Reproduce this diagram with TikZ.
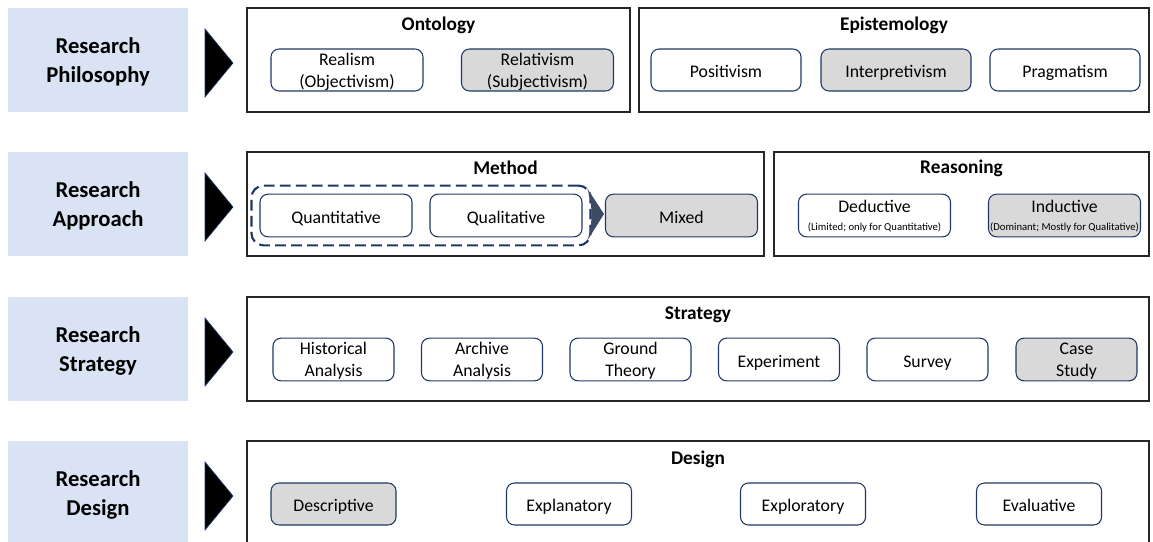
\documentclass[tikz,border=0pt]{standalone}
\usepackage{fontspec}
\setmainfont{Carlito}
\usetikzlibrary{fit}
\definecolor{stageblue}{HTML}{DAE3F3}
\definecolor{navy}{HTML}{1F3864}
\definecolor{picked}{HTML}{D9D9D9}
\definecolor{slate}{HTML}{3C4A63}

\begin{document}
\begin{tikzpicture}[x=0.75pt, y=-0.75pt]
        \tikzstyle{stage} = [rectangle, fill=stageblue, minimum width=135pt, minimum height=78pt, inner sep=0pt, align=center, font=\fontsize{17}{21.75}\selectfont\bfseries, text depth=-1pt]
        \tikzstyle{frame} = [rectangle, draw=black!85, line width=0.9pt, minimum height=78pt, inner sep=0pt]
        \tikzstyle{heading} = [inner sep=0pt, font=\fontsize{14.5}{17}\selectfont\bfseries]
        \tikzstyle{choice} = [rectangle, rounded corners=6pt, draw=navy, line width=0.8pt, fill=white, inner sep=0pt, align=center, minimum height=32pt, font=\fontsize{13.3}{16.5}\selectfont, execute at begin node={\rule{0pt}{14.5pt}}, execute at end node={\rule[-3pt]{0pt}{3pt}}]
        \tikzstyle{picked} = [choice, fill=picked]
        \tikzstyle{pair} = [text depth=-1pt]
        \useasboundingbox (0,0) rectangle (1153,542);

        % stages
        \node (philo) [stage] at (98,60) {Research\\Philosophy};
        \node (appr) [stage] at (98,204) {Research\\Approach};
        \node (strat) [stage] at (98,349) {Research\\Strategy};
        \node (design) [stage] at (98,493) {Research\\Design};
        \foreach \y in {63,207,352,496}
            \filldraw [fill=black, draw=navy, line width=0.5pt] (205,\y-34) -- (233,\y) -- (205,\y+34) -- cycle;

        % philosophy
        \node (onto) [frame, minimum width=287.25pt] at (438.5,60) {};
        \node (ontoT) [heading] at (438.5,25) {Ontology};
        \node (realism) [choice, pair, minimum width=114pt, minimum height=31.5pt] at (347,70) {Realism\\(Objectivism)};
        \node (relat) [picked, pair, minimum width=114pt, minimum height=31.5pt] at (537.5,70) {Relativism\\(Subjectivism)};
        \node (episte) [frame, minimum width=382.5pt] at (894,60) {};
        \node (episteT) [heading] at (894,25) {Epistemology};
        \node (posit) [choice, minimum width=112.5pt, minimum height=31.5pt] at (726,70) {Positivism};
        \node (interp) [picked, minimum width=112.5pt, minimum height=31.5pt] at (896,70) {Interpretivism};
        \node (pragm) [choice, minimum width=112.5pt, minimum height=31.5pt] at (1065,70) {Pragmatism};

        % approach
        \node (method) [frame, minimum width=387.75pt] at (505.5,204) {};
        \node (methodT) [heading] at (505.5,168) {Method};
        \node (quan) [choice, minimum width=114pt] at (336,215.5) {Quantitative};
        \node (qual) [choice, minimum width=114pt] at (506,215.5) {Qualitative};
        \node (mixed) [picked, minimum width=114pt] at (681.5,215.5) {Mixed};
        \node (both) [fit=(quan)(qual), draw=navy, line width=1.6pt, dash pattern=on 8pt off 4pt, rounded corners=9pt, inner sep=6pt] {};
        \fill [slate] (587,188) -- (604,214) -- (587,241) .. controls (593,226) and (593,203) .. (587,188) -- cycle;
        \node (reason) [frame, minimum width=281.25pt] at (961.5,204) {};
        \node (reasonT) [heading] at (961.5,168) {Reasoning};
        \node (deduct) [choice, pair, minimum width=114pt] at (874.5,215.5) {Deductive\\[-2.5pt]{\fontsize{8}{8}\selectfont (Limited; only for Quantitative)}};
        \node (induct) [picked, pair, minimum width=114pt] at (1064.5,215.5) {Inductive\\[-2.5pt]{\fontsize{8}{8}\selectfont (Dominant; Mostly for Qualitative)}};

        % strategy
        \node (strategy) [frame, minimum width=676.5pt] at (698,349) {};
        \node (strategyT) [heading] at (698,315) {Strategy};
        \node (hist) [choice, pair, minimum width=90.75pt] at (333.5,359.5) {Historical\\Analysis};
        \node (arch) [choice, pair, minimum width=90.75pt] at (482,359.5) {Archive\\Analysis};
        \node (ground) [choice, pair, minimum width=90.75pt] at (630.5,359.5) {Ground\\Theory};
        \node (exper) [choice, minimum width=90.75pt] at (779,359.5) {Experiment};
        \node (survey) [choice, minimum width=90.75pt] at (927.5,359.5) {Survey};
        \node (case) [picked, pair, minimum width=90.75pt] at (1076.5,359.5) {Case\\Study};

        % design
        \node (designF) [frame, minimum width=676.5pt] at (698,493) {};
        \node (designT) [heading] at (698,459) {Design};
        \node (descr) [picked, minimum width=93.75pt, minimum height=31.5pt] at (333.5,504) {Descriptive};
        \node (explan) [choice, minimum width=93.75pt, minimum height=31.5pt] at (569,504) {Explanatory};
        \node (explor) [choice, minimum width=93.75pt, minimum height=31.5pt] at (803,504) {Exploratory};
        \node (evalu) [choice, minimum width=93.75pt, minimum height=31.5pt] at (1039,504) {Evaluative};
    \end{tikzpicture}
\end{document}
